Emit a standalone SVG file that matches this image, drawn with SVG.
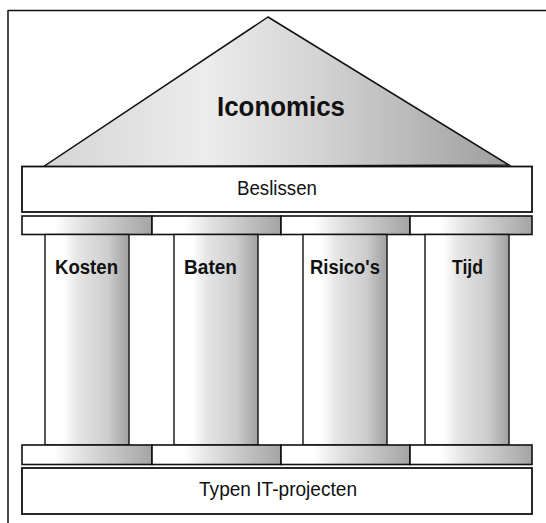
<svg xmlns="http://www.w3.org/2000/svg" width="546" height="523" viewBox="0 0 546 523">
<style>
.ln{fill:none;stroke:#111;stroke-width:1.5}
.box{fill:#fff;stroke:#111;stroke-width:1.8}
.seg{fill:url(#gSeg);stroke:#111;stroke-width:1.6}
.col{fill:url(#gCol);stroke:#111;stroke-width:1.4}
.t{font-family:"Liberation Sans",Arial,sans-serif;fill:#111}
.lab{font-size:20px;font-weight:bold}
.reg{font-size:20.5px}
</style>
<defs>
<linearGradient id="gRoof" x1="0" y1="0" x2="1" y2="0">
<stop offset="0" stop-color="#d4d4d4"/>
<stop offset="0.35" stop-color="#ececec"/>
<stop offset="0.6" stop-color="#d2d2d2"/>
<stop offset="1" stop-color="#9e9e9e"/>
</linearGradient>
<linearGradient id="gCol" x1="0" y1="0" x2="1" y2="0">
<stop offset="0" stop-color="#fff"/>
<stop offset="0.22" stop-color="#fff"/>
<stop offset="0.4" stop-color="#e4e4e4"/>
<stop offset="0.75" stop-color="#cdcdcd"/>
<stop offset="1" stop-color="#a0a0a0"/>
</linearGradient>
<linearGradient id="gSeg" x1="0" y1="0" x2="1" y2="0">
<stop offset="0" stop-color="#fff"/>
<stop offset="0.25" stop-color="#fff"/>
<stop offset="0.45" stop-color="#e2e2e2"/>
<stop offset="1" stop-color="#a4a4a4"/>
</linearGradient>
</defs>
<g id="frame">
<path class="ln" d="M8,10.5 H546 M8,10 V523"/>
</g>
<g id="roof">
<polygon points="268,17 43,167 509,165" fill="url(#gRoof)" stroke="#111" stroke-width="1.5"/>
<text class="t" x="217" y="116" font-size="28" font-weight="bold" textLength="128" lengthAdjust="spacingAndGlyphs">Iconomics</text>
</g>
<g id="beslissen">
<rect class="box" x="22" y="166.5" width="510" height="45.5"/>
<text class="t reg" x="237" y="195" textLength="80" lengthAdjust="spacingAndGlyphs">Beslissen</text>
</g>
<g id="capitals">
<rect class="seg" x="22" y="216" width="130" height="18.5"/>
<rect class="seg" x="152" y="216" width="129" height="18.5"/>
<rect class="seg" x="281" y="216" width="129" height="18.5"/>
<rect class="seg" x="410" y="216" width="122" height="18.5"/>
</g>
<g id="kosten">
<rect class="col" x="45" y="234.5" width="84" height="210.5"/>
<text class="t lab" x="55" y="274" textLength="63" lengthAdjust="spacingAndGlyphs">Kosten</text>
</g>
<g id="baten">
<rect class="col" x="174" y="234.5" width="84" height="210.5"/>
<text class="t lab" x="184" y="274" textLength="53" lengthAdjust="spacingAndGlyphs">Baten</text>
</g>
<g id="risicos">
<rect class="col" x="303" y="234.5" width="84" height="210.5"/>
<text class="t lab" x="310" y="274" textLength="70" lengthAdjust="spacingAndGlyphs">Risico's</text>
</g>
<g id="tijd">
<rect class="col" x="425" y="234.5" width="84" height="210.5"/>
<text class="t lab" x="452" y="274" textLength="31" lengthAdjust="spacingAndGlyphs">Tijd</text>
</g>
<g id="bases">
<rect class="seg" x="22" y="445" width="130" height="19.5"/>
<rect class="seg" x="152" y="445" width="129" height="19.5"/>
<rect class="seg" x="281" y="445" width="129" height="19.5"/>
<rect class="seg" x="410" y="445" width="122" height="19.5"/>
</g>
<g id="typen">
<rect class="box" x="22" y="468" width="510" height="46"/>
<text class="t reg" x="199" y="496" textLength="158" lengthAdjust="spacingAndGlyphs">Typen IT-projecten</text>
</g>
<g id="connectors"/>
</svg>
